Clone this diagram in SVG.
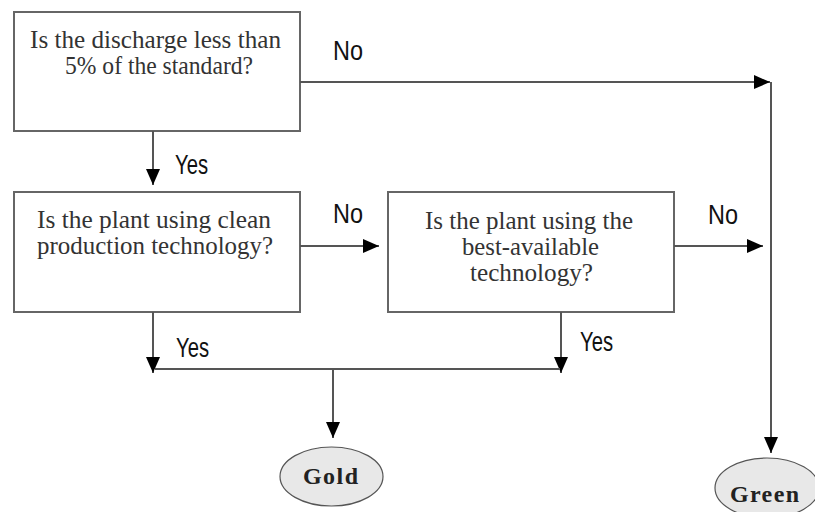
<svg xmlns="http://www.w3.org/2000/svg" width="815" height="512" viewBox="0 0 815 512">
<defs>
<style>
.box{fill:#fff;stroke:#666;stroke-width:2}
.q{font-family:"Liberation Serif","Times New Roman",serif;font-size:25px;fill:#333;text-anchor:middle}
.lbl{font-family:"Liberation Sans",Arial,sans-serif;font-size:28px;fill:#111}
.end{fill:#e8e8e8;stroke:#555;stroke-width:1.2}
.et{font-family:"Liberation Serif","Times New Roman",serif;font-size:24px;font-weight:bold;fill:#222;text-anchor:middle}
.ln{fill:none;stroke:#555;stroke-width:2}
</style>
<marker id="ah" viewBox="0 0 16 14" refX="16" refY="7" markerWidth="16" markerHeight="14" markerUnits="userSpaceOnUse" orient="auto">
<path d="M0,0 L16,7 L0,14 Z" fill="#000"/>
</marker>
</defs>
<rect width="815" height="512" fill="#fff"/>
<g id="q1">
<rect class="box" x="14" y="12" width="286" height="119"/>
<text class="q" x="155.5" y="48" textLength="251" lengthAdjust="spacingAndGlyphs">Is the discharge less than</text>
<text class="q" x="159" y="74" textLength="188" lengthAdjust="spacingAndGlyphs">5% of the standard?</text>
</g>
<g id="q2">
<rect class="box" x="14" y="192" width="286" height="120"/>
<text class="q" x="154" y="228" textLength="234" lengthAdjust="spacingAndGlyphs">Is the plant using clean</text>
<text class="q" x="155" y="254" textLength="236" lengthAdjust="spacingAndGlyphs">production technology?</text>
</g>
<g id="q3">
<rect class="box" x="388" y="192" width="286" height="120"/>
<text class="q" x="529" y="229" textLength="208" lengthAdjust="spacingAndGlyphs">Is the plant using the</text>
<text class="q" x="530.5" y="255" textLength="137" lengthAdjust="spacingAndGlyphs">best-available</text>
<text class="q" x="531.5" y="281" textLength="123" lengthAdjust="spacingAndGlyphs">technology?</text>
</g>
<g id="gold">
<ellipse class="end" cx="331.5" cy="476.5" rx="51.5" ry="29.5"/>
<text class="et" x="330.5" y="484" textLength="55" lengthAdjust="spacing">Gold</text>
</g>
<g id="green">
<ellipse class="end" cx="767" cy="488" rx="52" ry="30"/>
<text class="et" x="764.5" y="502" textLength="69" lengthAdjust="spacing">Green</text>
</g>
<g id="connectors">
<path class="ln" d="M300,82 H770" marker-end="url(#ah)"/>
<path class="ln" d="M771,82 V453" marker-end="url(#ah)"/>
<path class="ln" d="M153,131 V185" marker-end="url(#ah)"/>
<path class="ln" d="M300,246 H379" marker-end="url(#ah)"/>
<path class="ln" d="M674,246 H763" marker-end="url(#ah)"/>
<path class="ln" d="M153,312 V373" marker-end="url(#ah)"/>
<path class="ln" d="M561,312 V373" marker-end="url(#ah)"/>
<path class="ln" d="M155,369 H560"/>
<path class="ln" d="M333,369 V438" marker-end="url(#ah)"/>
<text class="lbl" x="333" y="60" textLength="30" lengthAdjust="spacingAndGlyphs">No</text>
<text class="lbl" x="333" y="223" textLength="30" lengthAdjust="spacingAndGlyphs">No</text>
<text class="lbl" x="708" y="224" textLength="30" lengthAdjust="spacingAndGlyphs">No</text>
<text class="lbl" x="175" y="174" textLength="33" lengthAdjust="spacingAndGlyphs">Yes</text>
<text class="lbl" x="176" y="357" textLength="33" lengthAdjust="spacingAndGlyphs">Yes</text>
<text class="lbl" x="580" y="351" textLength="33" lengthAdjust="spacingAndGlyphs">Yes</text>
</g>
</svg>
